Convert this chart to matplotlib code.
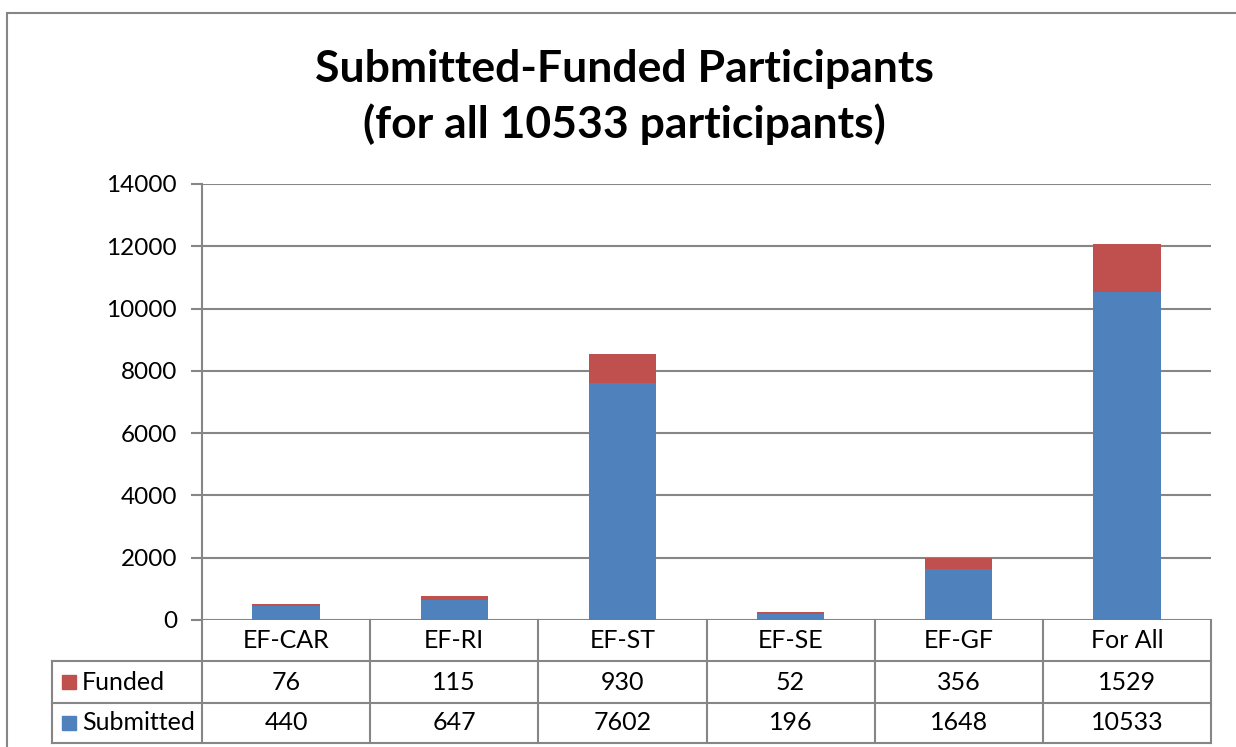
import numpy as np
import matplotlib.pyplot as plt
from matplotlib.patches import Rectangle

plt.rcParams['font.family'] = ['Lato', 'DejaVu Sans']

# data
categories = ['EF-CAR', 'EF-RI', 'EF-ST', 'EF-SE', 'EF-GF', 'For All']
submitted = [440, 647, 7602, 196, 1648, 10533]
funded = [76, 115, 930, 52, 356, 1529]
series_names = ['Funded', 'Submitted']
blue = '#4F81BD'
red = '#C0504D'
gray = '#868686'

W, H = 1236, 747
fig = plt.figure(figsize=(W / 100, H / 100), dpi=100)

# pixel layout helpers
left, right, top, bottom = 202, 1211, 184, 620
ax = fig.add_axes([left / W, 1 - bottom / H, (right - left) / W, (bottom - top) / H])

n = len(categories)
x = np.arange(n) + 0.5
ax.bar(x, submitted, width=0.4, color=blue, zorder=3)
ax.bar(x, funded, width=0.4, bottom=submitted, color=red, zorder=3)

ax.set_xlim(0, n)
ax.set_ylim(0, 14000)
ax.set_yticks(np.arange(0, 14001, 2000))
ax.set_xticks([])
ax.yaxis.grid(True, color=gray, linewidth=1.5, zorder=0)
for s in ['top', 'right', 'bottom']:
    ax.spines[s].set_visible(False)
ax.spines['left'].set_color(gray)
ax.spines['left'].set_linewidth(1.5)
ax.tick_params(axis='y', colors=gray, length=8, width=1.5, pad=10,
               labelsize=17.5, labelcolor='black')

# data table below the axes
tleft, tbottom = 52, 743
row_lines = [620, 661, 703, 743]
tab = fig.add_axes([tleft / W, 1 - tbottom / H, (right - tleft) / W, (tbottom - 620) / H])
tab.set_xlim(tleft, right)
tab.set_ylim(tbottom, 620)
tab.axis('off')
col_w = (right - left) / n
col_edges = [left + i * col_w for i in range(n + 1)]
lw = 1.5
# horizontal lines
tab.plot([tleft, right], [row_lines[1], row_lines[1]], color=gray, lw=lw, clip_on=False)
for yl in row_lines[2:]:
    tab.plot([tleft, right], [yl, yl], color=gray, lw=lw, clip_on=False)
# vertical lines
for xe in col_edges:
    tab.plot([xe, xe], [row_lines[0], row_lines[-1]], color=gray, lw=lw, clip_on=False)
tab.plot([tleft, tleft], [row_lines[1], row_lines[-1]], color=gray, lw=lw, clip_on=False)

fs = 18
for i, cat in enumerate(categories):
    cx = (col_edges[i] + col_edges[i + 1]) / 2
    tab.text(cx, (row_lines[0] + row_lines[1]) / 2, cat, ha='center', va='center', fontsize=fs)
    tab.text(cx, (row_lines[1] + row_lines[2]) / 2, str(funded[i]), ha='center', va='center', fontsize=fs)
    tab.text(cx, (row_lines[2] + row_lines[3]) / 2, str(submitted[i]), ha='center', va='center', fontsize=fs)

for r, (name, col) in enumerate(zip(series_names, [red, blue])):
    yc = (row_lines[r + 1] + row_lines[r + 2]) / 2
    tab.add_patch(Rectangle((62, yc - 7), 14, 14, color=col, clip_on=False))
    tab.text(82, yc, name, ha='left', va='center', fontsize=fs)

# title
fig.text(624 / W, 1 - 97 / H, 'Submitted-Funded Participants\n(for all 10533 participants)',
         ha='center', va='center', fontsize=32, fontweight='bold', linespacing=1.4)

# outer chart border
fig.patches.append(Rectangle((7 / W, -0.1), 1.2, 1 - 13 / H + 0.1, transform=fig.transFigure,
                             fill=False, edgecolor=gray, lw=1.5))

fig.savefig('out.png', dpi=100)
